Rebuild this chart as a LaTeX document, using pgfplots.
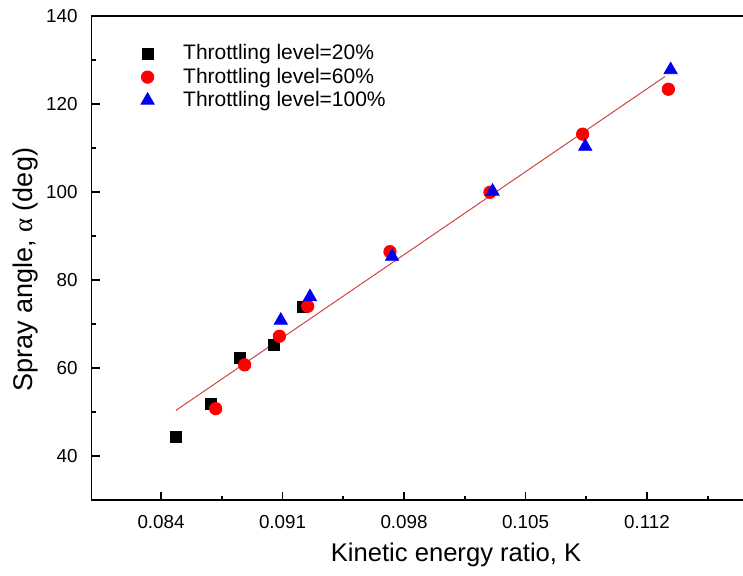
\documentclass[border=0pt]{standalone}
\usepackage{fontspec}
\setmainfont{Liberation Sans}
\newfontfamily\sym{Liberation Serif}
\usepackage{pgfplots}
\pgfplotsset{compat=1.18}
\definecolor{fitred}{RGB}{205,70,70}
\definecolor{mkred}{RGB}{255,0,0}
\definecolor{mkblue}{RGB}{0,0,240}
\begin{document}
\begin{tikzpicture}
\begin{axis}[
 scale only axis,
 width=364.5pt, height=242.15pt,
 xmin=0.08, xmax=0.122, ymin=30, ymax=140,
 axis line style={line width=0.8pt},
 xtick={0.084,0.091,0.098,0.105,0.112,0.119},
 xticklabels={0.084,0.091,0.098,0.105,0.112,},
 ytick={40,60,80,100,120,140},
 minor x tick num=1, minor y tick num=1,
 xtick pos=bottom, ytick pos=left,
 tick align=inside,
 major tick length=4pt, minor tick length=2pt,
 tick style={line width=0.8pt, black},
 /pgf/number format/assume math mode=true,
 ticklabel style={font=\fontsize{9.4}{11}\selectfont},
 xticklabel style={yshift=-4pt},
 yticklabel style={xshift=-3.5pt},
 xlabel={Kinetic energy ratio, K},
 ylabel={Spray angle, {\sym α} (deg)},
 xlabel style={font=\fontsize{12.8}{15}\selectfont, at={([yshift=-27.5pt]axis description cs:0.5,0)}, anchor=center},
 ylabel style={font=\fontsize{13.5}{15}\selectfont, at={([xshift=-33pt,yshift=-6pt]axis description cs:0,0.5)}, anchor=center},
 legend style={draw=none, fill=none, at={(rel axis cs:0.059,0.957)}, anchor=north west,
   font=\fontsize{10.5}{12}\selectfont, row sep=-1.4pt,
   cells={anchor=west, text height=7.5pt, text depth=2.2pt, inner ysep=1.2pt},
   /tikz/every odd column/.append style={column sep=12.5pt}},
]
\coordinate (O) at (rel axis cs:0,0);
\addplot[color=fitred, line width=0.5pt, forget plot] coordinates {(0.08486,50.36) (0.11304,126.2)};
\addplot[only marks, mark=square*, mark size=2.75pt, color=black] coordinates {
(0.08486,44.4) (0.08688,51.9) (0.08855,62.2) (0.09051,65.3) (0.0922,73.8)};
\addlegendentry{Throttling level=20\%}
\addplot[only marks, mark=*, mark size=3.1pt, color=mkred] coordinates {
(0.08715,50.75) (0.08882,60.7) (0.09082,67.2) (0.09245,74.0) (0.09719,86.4) (0.10295,99.9) (0.10829,113.1) (0.11323,123.3)};
\addlegendentry{Throttling level=60\%}
\addplot[only marks, mark=triangle*, mark size=3.8pt, color=mkblue] coordinates {
(0.0909,70.8) (0.09258,76.15) (0.09731,85.3) (0.1031,100.1) (0.10844,110.3) (0.11336,127.7)};
\addlegendentry{Throttling level=100\%}
\end{axis}
\pgfresetboundingbox
\path[use as bounding box] (O) ++(-45.8pt,-37.5pt) rectangle ++(371.5pt,287.5pt);
\end{tikzpicture}
\end{document}
